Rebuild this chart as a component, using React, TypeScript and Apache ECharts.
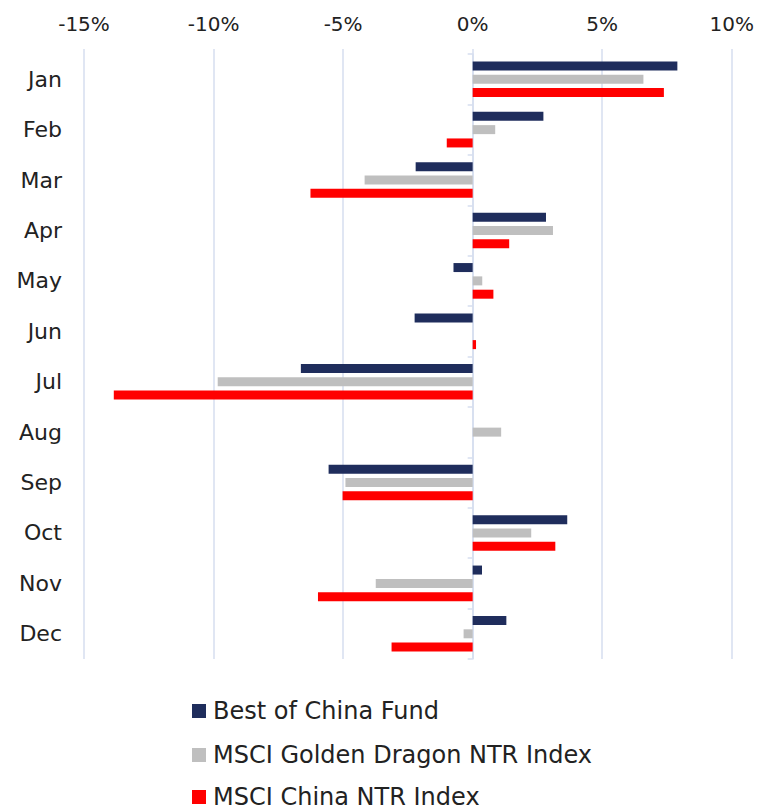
import React, { useEffect, useRef } from "react";
import * as echarts from "echarts";

const months = ["Jan", "Feb", "Mar", "Apr", "May", "Jun", "Jul", "Aug", "Sep", "Oct", "Nov", "Dec"];
const bestOfChina = [7.9, 2.73, -2.2, 2.83, -0.74, -2.24, -6.63, 0, -5.56, 3.65, 0.36, 1.3];
const goldenDragon = [6.59, 0.87, -4.17, 3.1, 0.37, 0, -9.84, 1.1, -4.91, 2.26, -3.74, -0.35];
const chinaNtr = [7.38, -1.0, -6.26, 1.41, 0.8, 0.13, -13.85, 0, -5.02, 3.19, -5.97, -3.13];
const seriesNames = ["Best of China Fund", "MSCI Golden Dragon NTR Index", "MSCI China NTR Index"];
const colors = ["#1F2D5C", "#BFBFBF", "#FF0000"];

const FONT = "DejaVu Sans";
const GRID_COLOR = "#D6DEEF";

export default function App() {
  const ref = useRef<HTMLDivElement>(null);
  useEffect(() => {
    if (!ref.current) return;
    const chart = echarts.init(ref.current, null, { renderer: "svg" });
    const mk = (i: number, data: number[]) => ({
      name: seriesNames[i],
      type: "bar",
      data,
      barWidth: 9,
      barGap: "48%",
      itemStyle: { color: colors[i] },
    });
    const legendTops = [699, 743, 785];
    const legends = seriesNames.map((n, i) => ({
      orient: "vertical",
      left: 192,
      top: legendTops[i],
      icon: "rect",
      itemWidth: 14,
      itemHeight: 14,
      padding: 0,
      textStyle: { fontSize: 24, color: "#222", fontFamily: FONT, padding: [0, 0, 0, 2] },
      data: [n],
    }));
    chart.setOption({
      animation: false,
      textStyle: { fontFamily: FONT },
      grid: { left: 84, right: 24, top: 54, bottom: 153, containLabel: false },
      legend: legends,
      xAxis: {
        type: "value",
        position: "top",
        min: -15,
        max: 10,
        interval: 5,
        axisLine: { show: false },
        axisTick: { show: true, length: 5, lineStyle: { color: GRID_COLOR, width: 1.5 } },
        splitLine: { show: true, lineStyle: { color: GRID_COLOR, width: 1.5 } },
        axisLabel: { formatter: "{value}%", fontSize: 20, color: "#222", margin: 20, fontFamily: FONT },
      },
      yAxis: [
        {
          type: "category",
          data: months,
          inverse: true,
          position: "left",
          axisLine: { show: true, onZero: true, lineStyle: { color: GRID_COLOR, width: 1.5 } },
          axisTick: { show: true, length: 5, lineStyle: { color: GRID_COLOR, width: 1.5 } },
          axisLabel: { show: false },
        },
        {
          type: "category",
          data: months,
          inverse: true,
          position: "left",
          axisLine: { show: false, onZero: false },
          axisTick: { show: false },
          axisLabel: { show: true, fontSize: 22, color: "#222", margin: 22, fontFamily: FONT },
        },
      ],
      series: [mk(0, bestOfChina), mk(1, goldenDragon), mk(2, chinaNtr)],
    });
    return () => chart.dispose();
  }, []);
  return (
    <div
      ref={ref}
      style={{ position: "fixed", left: 0, top: 0, width: 757, height: 812, background: "#fff" }}
    />
  );
}
